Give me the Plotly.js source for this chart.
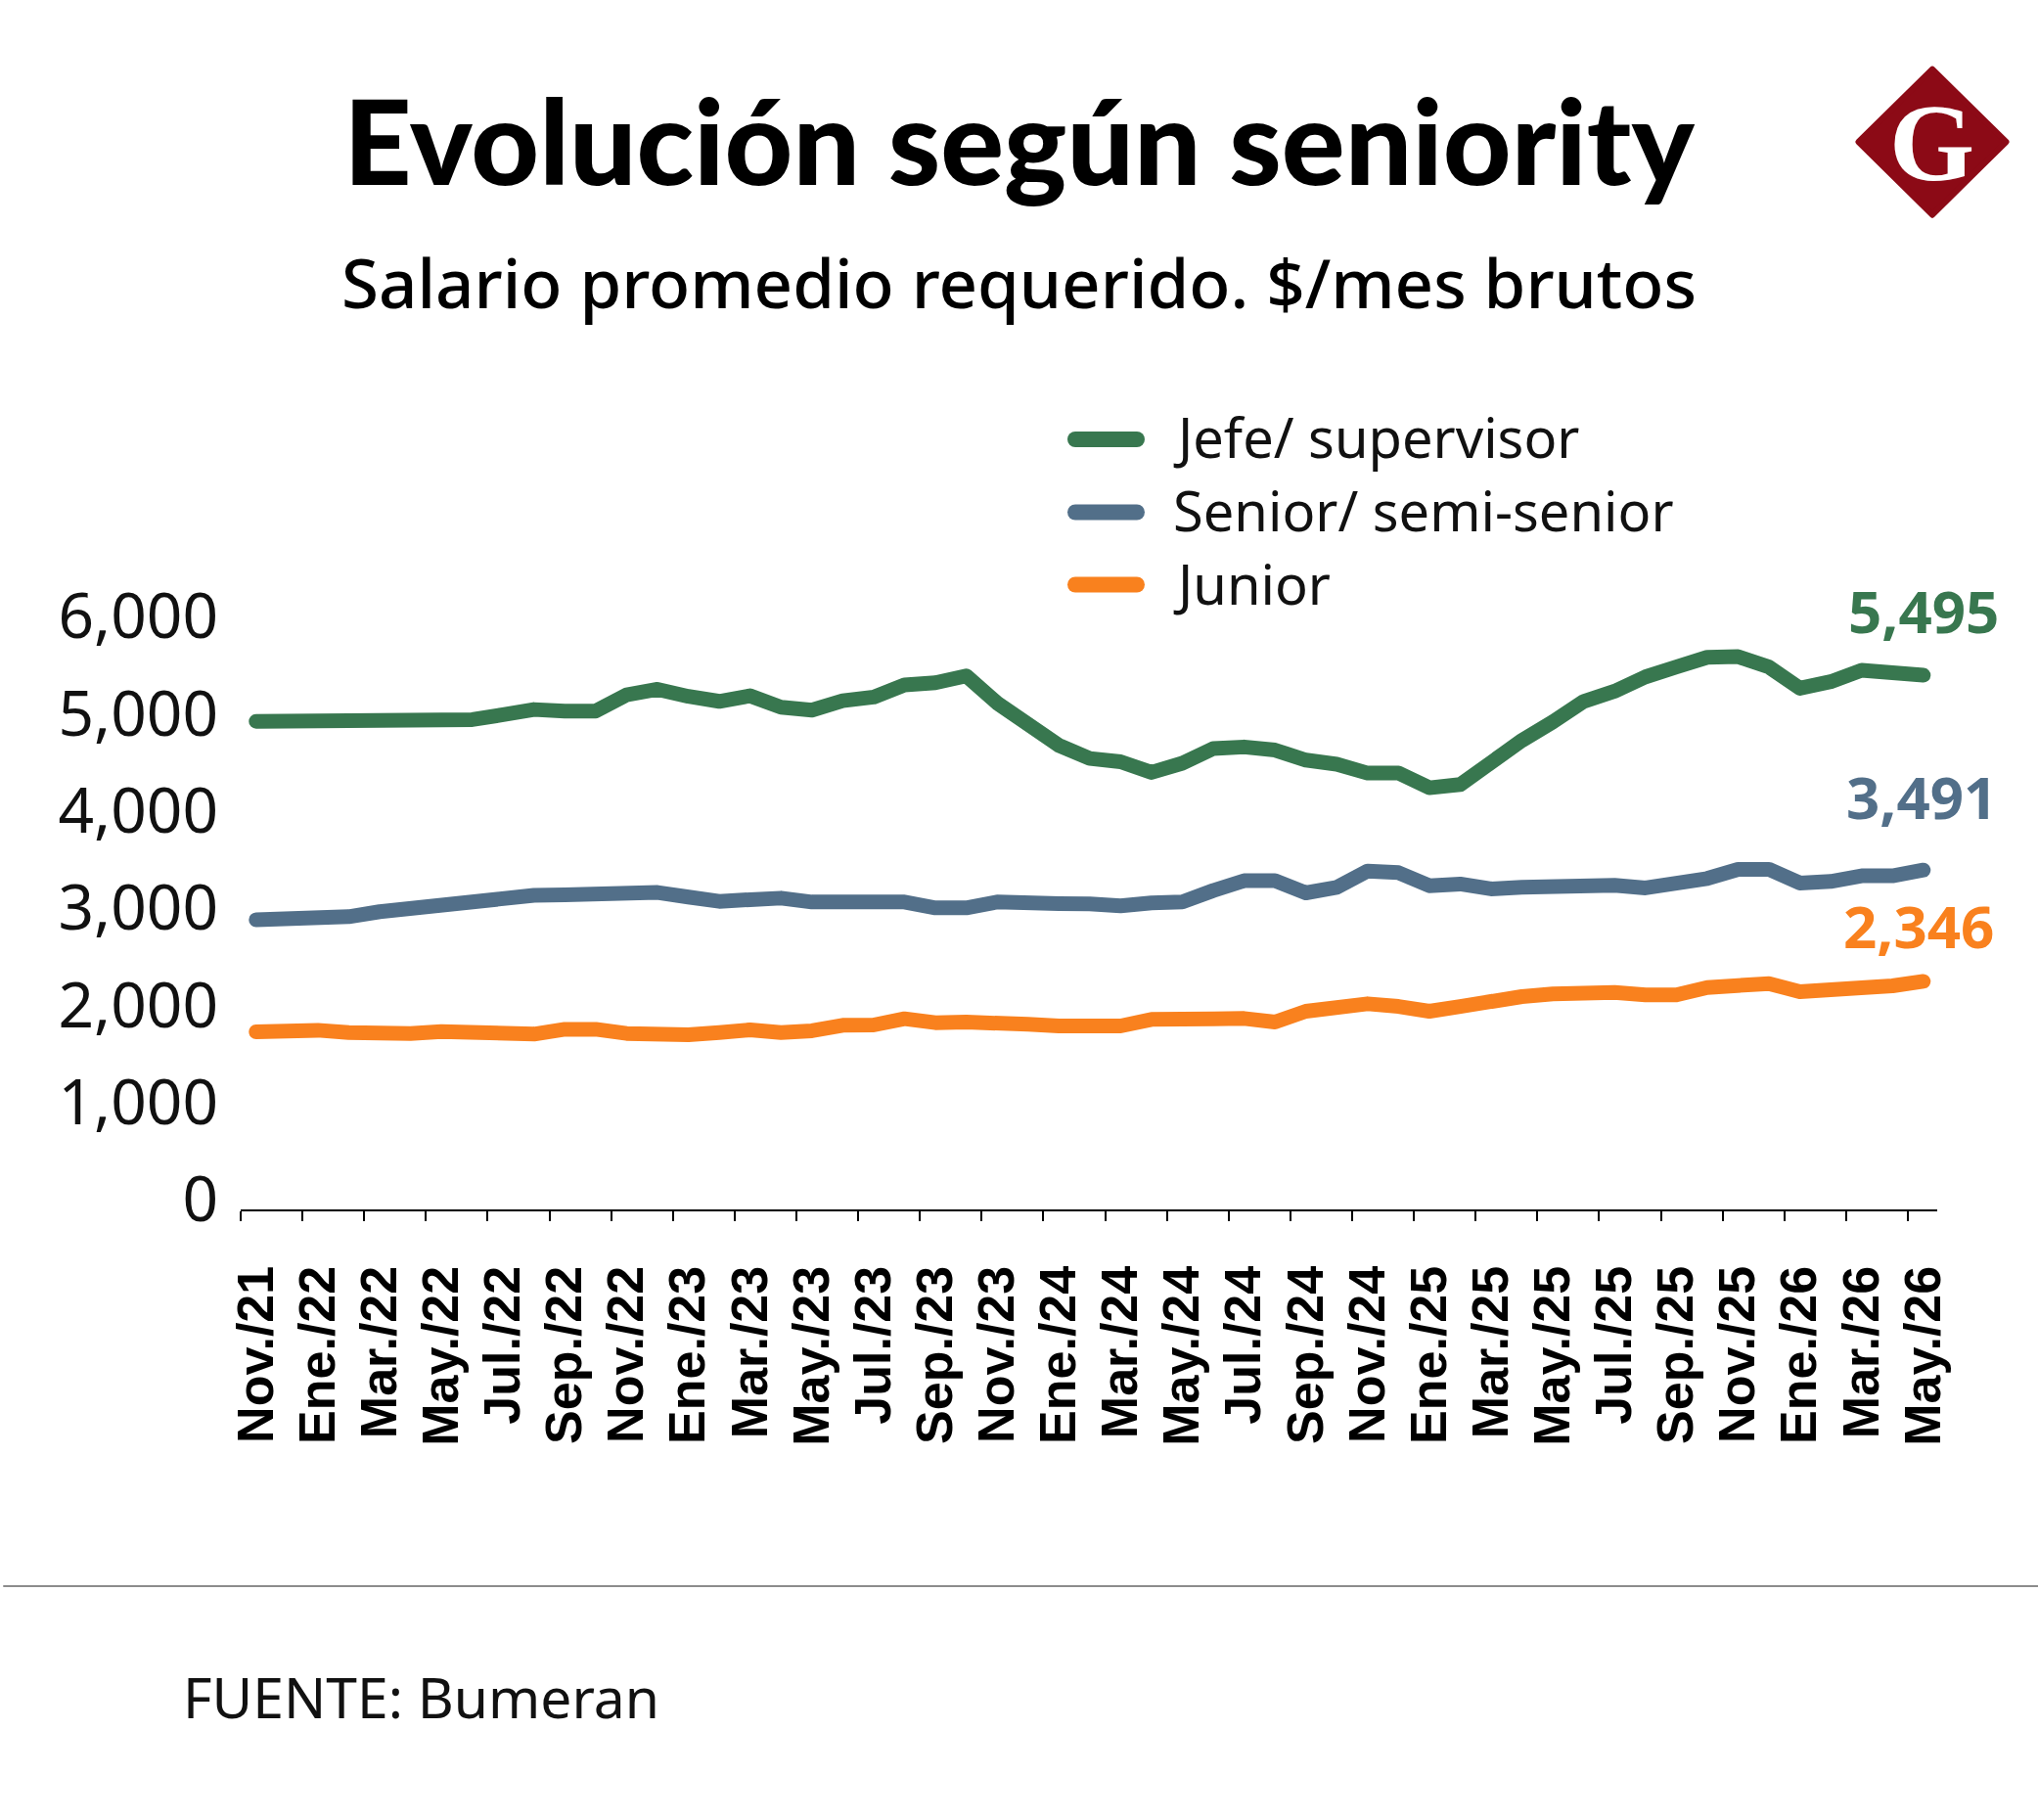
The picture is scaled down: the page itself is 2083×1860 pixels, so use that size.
<!DOCTYPE html>
<html>
<head>
<meta charset="utf-8">
<script src="https://cdn.plot.ly/plotly-3.0.1.min.js"></script>
<style>
  html, body { margin: 0; padding: 0; background: #ffffff; }
  #chart { width: 2083px; height: 1860px; }
  /* rounded ends and joints for the thick series lines and legend keys */
  .scatterlayer .js-line, .shapelayer path { stroke-linecap: round !important; stroke-linejoin: round !important; }
</style>
</head>
<body>
<div id="chart"></div>
<script>
// Monthly periods, Nov. 2021 – May 2026
const months = [
  'Nov./21','Dic./21',
  'Ene./22','Feb./22','Mar./22','Abr./22','May./22','Jun./22','Jul./22','Ago./22','Sep./22','Oct./22','Nov./22','Dic./22',
  'Ene./23','Feb./23','Mar./23','Abr./23','May./23','Jun./23','Jul./23','Ago./23','Sep./23','Oct./23','Nov./23','Dic./23',
  'Ene./24','Feb./24','Mar./24','Abr./24','May./24','Jun./24','Jul./24','Ago./24','Sep./24','Oct./24','Nov./24','Dic./24',
  'Ene./25','Feb./25','Mar./25','Abr./25','May./25','Jun./25','Jul./25','Ago./25','Sep./25','Oct./25','Nov./25','Dic./25',
  'Ene./26','Feb./26','Mar./26','Abr./26','May./26'
];

// Average requested salary ($/month, gross) by seniority level
const jefe = [
  5020, 5025, 5020, 5028, 5035, 5038, 5025, 5038, 5089, 5142, 5126, 5126,
  5293, 5350, 5277, 5226, 5283, 5166, 5136, 5233, 5270, 5394, 5418, 5488,
  5209, 4998, 4773, 4639, 4605, 4495, 4589, 4740, 4757, 4725, 4622, 4579,
  4488, 4488, 4337, 4370, 4605, 4824, 5015, 5226, 5330, 5478, 5579, 5679,
  5686, 5579, 5361, 5428, 5545, 5538, 5495
];
const senior = [
  2980, 2995, 2974, 3011, 3062, 3095, 3152, 3186, 3213, 3230, 3236, 3246,
  3263, 3260, 3213, 3169, 3186, 3202, 3162, 3172, 3152, 3162, 3102, 3102,
  3162, 3172, 3145, 3142, 3122, 3152, 3162, 3280, 3381, 3381, 3256, 3313,
  3481, 3464, 3330, 3347, 3297, 3313, 3323, 3330, 3334, 3307, 3337, 3404,
  3498, 3498, 3357, 3374, 3431, 3431, 3491
];
const junior = [
  1827, 1843, 1843, 1820, 1797, 1810, 1830, 1827, 1793, 1803, 1853, 1853,
  1810, 1786, 1797, 1820, 1847, 1820, 1837, 1894, 1897, 1961, 1921, 1927,
  1927, 1904, 1887, 1881, 1887, 1954, 1944, 1961, 1964, 1927, 2038, 2088,
  2115, 2088, 2038, 2088, 2156, 2189, 2216, 2240, 2232, 2206, 2206, 2283,
  2297, 2323, 2240, 2256, 2290, 2300, 2346
];

const seriesNames = ['Jefe/ supervisor', 'Senior/ semi-senior', 'Junior'];
const yTicks = [0, 1000, 2000, 3000, 4000, 5000, 6000];

const titleText = 'Evolución según seniority';
const subtitleText = 'Salario promedio requerido. $/mes brutos';
const sourceText = 'FUENTE: Bumeran';

// ---- drawing ----
const COLORS = ['#38774f', '#526f89', '#f9811e'];
const LOGO_RED = '#8c0a16';
const SERIES = [jefe, senior, junior];

const W = 2083, H = 1860;
const M = { l: 246, r: 103, t: 620, b: 624 };
const PW = W - M.l - M.r, PH = H - M.t - M.b;
// page pixel -> paper fraction helpers for decorations
const px = X => (X - M.l) / PW;
const py = Y => (M.t + PH - Y) / PH;

const REG = 'Noto Sans, Liberation Sans, sans-serif';
const BOLD = 'Liberation Sans, Arial, sans-serif';
const HEAVY = 'Lato, Liberation Sans, sans-serif';

const traces = SERIES.map((s, k) => ({
  type: 'scatter',
  mode: 'lines',
  name: seriesNames[k],
  x: months,
  y: s,
  line: { color: COLORS[k], width: 15 },
  hoverinfo: 'skip'
}));

// every other month is labelled; tick marks sit on the category boundaries
const labelled = months.filter((m, i) => i % 2 === 0);

const fmt = v => v.toLocaleString('en-US');

const legendY = [449, 523.5, 597.5];
const legendTextY = [446.3, 521.3, 595.8];
const endShift = [{ x: 0, y: 65.6 }, { x: -2, y: 75.2 }, { x: -5, y: 57.1 }];

const shapes = [];
const annotations = [];

seriesNames.forEach((name, k) => {
  shapes.push({
    type: 'line', xref: 'paper', yref: 'paper',
    x0: px(1099), x1: px(1162), y0: py(legendY[k]), y1: py(legendY[k]),
    line: { color: COLORS[k], width: 16 }
  });
  annotations.push({
    xref: 'paper', yref: 'paper', x: px(1198), y: py(legendTextY[k]),
    xanchor: 'left', yanchor: 'middle', showarrow: false, borderpad: 0,
    text: name, font: { family: REG, size: 56, color: '#111111' }
  });
  const s = SERIES[k];
  const last = s.length - 1;
  annotations.push({
    xref: 'x', yref: 'y', x: months[last], y: s[last],
    xanchor: 'center', yanchor: 'middle', showarrow: false, borderpad: 0,
    xshift: endShift[k].x, yshift: endShift[k].y,
    text: fmt(s[last]), font: { family: REG, size: 60, weight: 700, color: COLORS[k] }
  });
});

// subtitle
annotations.push({
  xref: 'paper', yref: 'paper', x: px(1041.5), y: py(287.8),
  xanchor: 'center', yanchor: 'middle', showarrow: false, borderpad: 0,
  text: subtitleText, font: { family: REG, size: 69, weight: 500, color: '#000000' }
});

// source line
annotations.push({
  xref: 'paper', yref: 'paper', x: px(186), y: py(1733.5),
  xanchor: 'left', yanchor: 'middle', showarrow: false, borderpad: 0,
  text: sourceText, font: { family: REG, size: 57, color: '#111111' }
});

// masthead badge: diamond with a serif G
shapes.push({
  type: 'path', xref: 'paper', yref: 'paper',
  path: `M ${px(1975)} ${py(70.7)} L ${px(2050.5)} ${py(145)} L ${px(1975)} ${py(219.7)} L ${px(1899.5)} ${py(145)} Z`,
  fillcolor: LOGO_RED, line: { color: LOGO_RED, width: 6 }
});
annotations.push({
  xref: 'paper', yref: 'paper', x: px(1974), y: py(146),
  xanchor: 'center', yanchor: 'middle', showarrow: false, borderpad: 0,
  text: 'G', font: { family: 'Liberation Serif, DejaVu Serif, serif', size: 112, weight: 700, color: '#ffffff' }
});

// footer rule
shapes.push({
  type: 'line', xref: 'paper', yref: 'paper',
  x0: px(4), x1: px(2083), y0: py(1621), y1: py(1621),
  line: { color: '#8c8c8c', width: 2 }
});

const layout = {
  width: W, height: H,
  margin: { l: M.l, r: M.r, t: M.t, b: M.b, pad: 0 },
  paper_bgcolor: '#ffffff', plot_bgcolor: '#ffffff',
  showlegend: false,
  title: {
    text: titleText,
    font: { family: HEAVY, size: 121, weight: 900, color: '#000000' },
    x: 0.5, xref: 'container', xanchor: 'center',
    y: 1 - 104 / H, yref: 'container', yanchor: 'top', automargin: false
  },
  xaxis: {
    type: 'category', range: [-0.5, months.length - 0.55],
    tickmode: 'array', tickvals: labelled, ticktext: labelled,
    tickangle: -90, tickson: 'boundaries',
    ticks: 'outside', ticklen: 10, tickwidth: 2, tickcolor: '#000000',
    showline: true, linecolor: '#000000', linewidth: 2,
    showgrid: false, zeroline: false,
    tickfont: { family: BOLD, size: 52, weight: 700, color: '#000000' },
    ticklabelstandoff: 35
  },
  yaxis: {
    range: [0, 6200],
    tickmode: 'array', tickvals: yTicks, tickformat: ',d',
    showgrid: false, zeroline: false, showline: false, ticks: '',
    tickfont: { family: REG, size: 64, color: '#111111' },
    ticklabelstandoff: 22, ticklabelshift: -10
  },
  shapes: shapes,
  annotations: annotations
};

Plotly.newPlot('chart', traces, layout, { staticPlot: true, displayModeBar: false });
</script>
</body>
</html>
